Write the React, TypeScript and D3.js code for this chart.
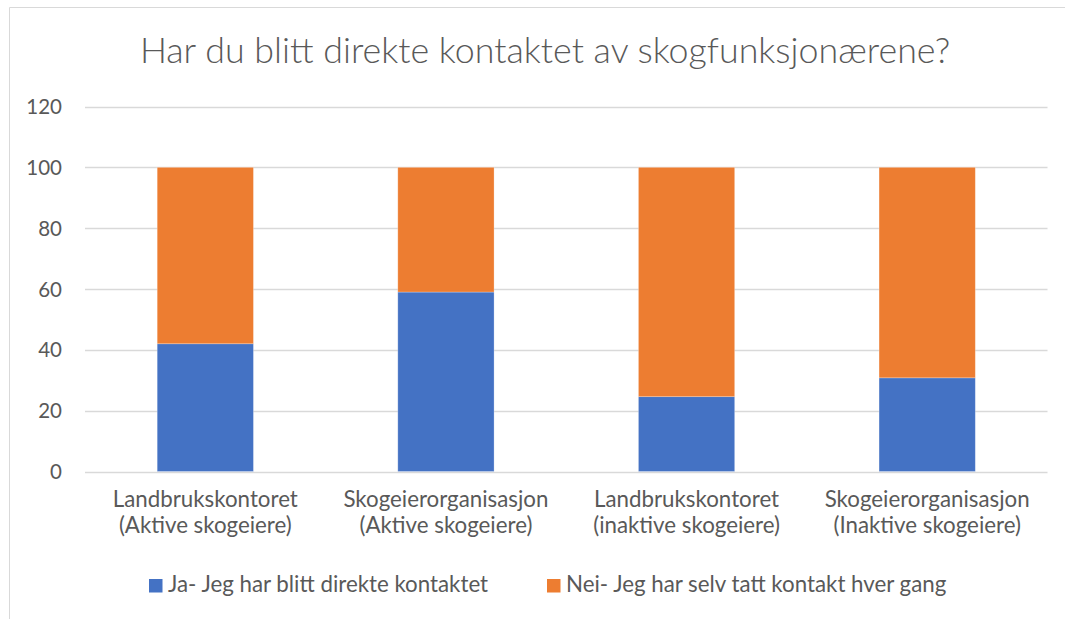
import { useEffect, useRef } from 'react'
import * as d3 from 'd3'

const categories = [
  ['Landbrukskontoret', '(Aktive skogeiere)'],
  ['Skogeierorganisasjon', '(Aktive skogeiere)'],
  ['Landbrukskontoret', '(inaktive skogeiere)'],
  ['Skogeierorganisasjon', '(Inaktive skogeiere)'],
]
const jaValues = [42, 59, 24.6, 30.8]
const neiValues = [58, 41, 75.4, 69.2]
const yTicks = [0, 20, 40, 60, 80, 100, 120]
const seriesNames = ['Ja- Jeg har blitt direkte kontaktet', 'Nei- Jeg har selv tatt kontakt hver gang']
const colors = ['#4472C4', '#ED7D31']

const title = 'Har du blitt direkte kontaktet av skogfunksjonærene?'

export default function App() {
  const svgRef = useRef<SVGSVGElement>(null)

  useEffect(() => {
    if (!svgRef.current) return
    const svg = d3.select(svgRef.current)
    svg.selectAll('*').remove()

    const width = 1065
    const height = 619
    const margin = { top: 106.5, right: 17.5, bottom: 147.5, left: 85 }
    const font = 'Lato, "Open Sans", sans-serif'
    const textColor = '#595959'
    const labelSize = 22.3

    // chart frame (only top/left edges are visible in the crop)
    svg.append('path')
      .attr('d', `M9.5,${height} V7.5 H${width}`)
      .attr('fill', 'none')
      .attr('stroke', '#D9D9D9')
      .attr('stroke-width', 1)

    svg.append('text')
      .attr('x', 545)
      .attr('y', 63)
      .attr('text-anchor', 'middle')
      .attr('font-family', font)
      .attr('font-weight', 300)
      .attr('font-size', 35.8)
      .attr('fill', textColor)
      .text(title)

    const x = d3.scaleBand<number>()
      .domain(d3.range(categories.length))
      .range([margin.left, width - margin.right])
      .paddingInner(0.6)
      .paddingOuter(0.3)

    const y = d3.scaleLinear()
      .domain([0, 120])
      .range([height - margin.bottom, margin.top])

    const g = svg.append('g')

    // gridlines + y labels
    g.selectAll('line.grid')
      .data(yTicks)
      .join('line')
      .attr('class', 'grid')
      .attr('x1', margin.left)
      .attr('x2', width - margin.right)
      .attr('y1', d => Math.round(y(d)) + 0.5)
      .attr('y2', d => Math.round(y(d)) + 0.5)
      .attr('stroke', '#D9D9D9')
      .attr('stroke-width', 1.5)

    g.selectAll('text.ytick')
      .data(yTicks)
      .join('text')
      .attr('class', 'ytick')
      .attr('x', 62)
      .attr('y', d => y(d) + 7.5)
      .attr('text-anchor', 'end')
      .attr('font-family', font)
      .attr('font-size', 20.5)
      .attr('fill', textColor)
      .text(d => d)

    // stacked bars
    const stacked = categories.map((_, i) => [jaValues[i], neiValues[i]])
    stacked.forEach((vals, i) => {
      let base = 0
      vals.forEach((v, s) => {
        g.append('rect')
          .attr('x', x(i)!)
          .attr('width', x.bandwidth())
          .attr('y', y(base + v))
          .attr('height', y(base) - y(base + v))
          .attr('fill', colors[s])
          .attr('stroke', '#ffffff')
          .attr('stroke-opacity', 0.35)
          .attr('stroke-width', 0.75)
        base += v
      })
    })

    // category labels
    categories.forEach((lines, i) => {
      const t = g.append('text')
        .attr('text-anchor', 'middle')
        .attr('font-family', font)
        .attr('font-size', labelSize)
        .attr('fill', textColor)
      lines.forEach((line, j) => {
        t.append('tspan')
          .attr('x', x(i)! + x.bandwidth() / 2)
          .attr('y', 507 + j * 26)
          .text(line)
      })
    })

    // legend
    const legendX = [149, 547]
    seriesNames.forEach((name, s) => {
      g.append('rect')
        .attr('x', legendX[s])
        .attr('y', 579)
        .attr('width', 13.5)
        .attr('height', 13.5)
        .attr('fill', colors[s])
      g.append('text')
        .attr('x', legendX[s] + 19)
        .attr('y', 592)
        .attr('font-family', font)
        .attr('font-size', labelSize)
        .attr('fill', textColor)
        .text(name)
    })
  }, [])

  return (
    <svg
      ref={svgRef}
      width={1065}
      height={619}
      style={{ position: 'absolute', left: 0, top: 0, background: '#fff' }}
    />
  )
}
